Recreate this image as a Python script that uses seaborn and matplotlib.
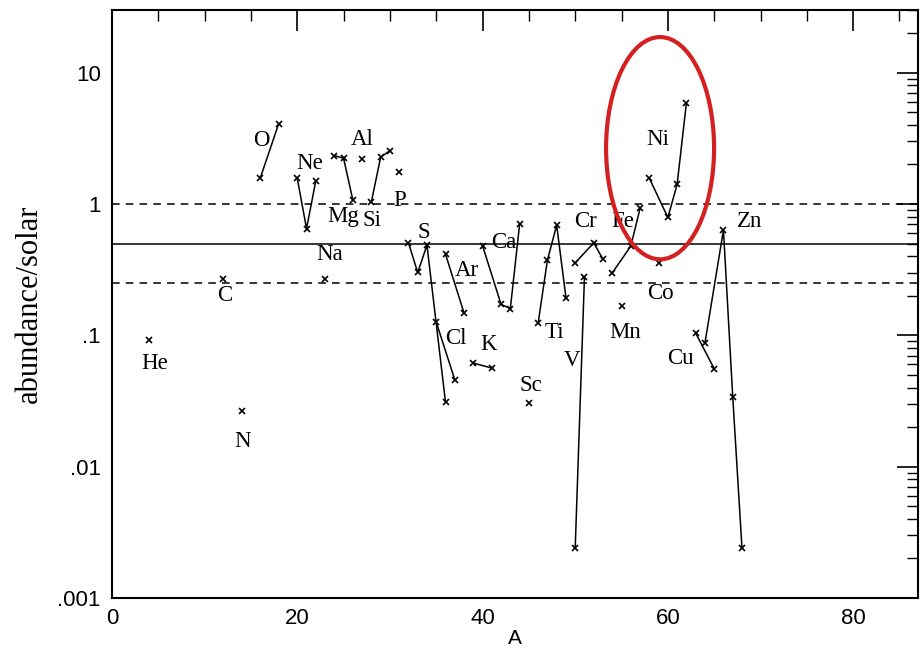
import matplotlib
matplotlib.use("Agg")
import matplotlib.pyplot as plt
import matplotlib.ticker as mticker
from matplotlib.patches import Ellipse
import numpy as np
import pandas as pd
import seaborn as sns

sns.set_theme(style="white")
plt.rcParams['font.family'] = ['Liberation Serif', 'DejaVu Serif']

# isotopes per element (mass number A) and abundance / solar
elements = ["He", "C", "N", "O", "Ne", "Na", "Mg", "Al", "Si", "P", "S", "Cl",
            "Ar", "K", "Ca", "Sc", "Ti", "V", "Cr", "Mn", "Fe", "Co", "Ni", "Cu", "Zn"]
masses = [[4], [12], [14], [16, 18], [20, 21, 22], [23], [24, 25, 26], [27],
          [28, 29, 30], [31], [32, 33, 34, 36], [35, 37], [36, 38], [39, 41],
          [40, 42, 43, 44], [45], [46, 47, 48, 49], [50, 51], [50, 52, 53], [55],
          [54, 56, 57], [59], [58, 60, 61, 62], [63, 65], [64, 66, 67, 68]]
abund = [[0.092], [0.27], [0.0267], [1.57, 4.1], [1.57, 0.65, 1.50], [0.27],
         [2.34, 2.23, 1.07], [2.2], [1.04, 2.27, 2.55], [1.76],
         [0.507, 0.301, 0.486, 0.031], [0.126, 0.046], [0.415, 0.148],
         [0.0615, 0.0563], [0.481, 0.172, 0.160, 0.703], [0.0306],
         [0.124, 0.374, 0.69, 0.194], [0.0024, 0.28], [0.356, 0.507, 0.378],
         [0.166], [0.299, 0.478, 0.927], [0.356], [1.57, 0.79, 1.41, 5.87],
         [0.104, 0.0557], [0.0873, 0.633, 0.0342, 0.0024]]

# label positions (A, abundance) for element names
label_x = [4.6, 12.2, 14.1, 16.1, 21.3, 23.5, 25.0, 27.0, 28.1, 31.1, 33.7, 37.1,
           38.3, 40.7, 42.3, 45.2, 47.8, 49.7, 51.1, 55.4, 55.1, 59.2, 58.9, 61.4, 68.8]
label_y = [0.061, 0.20, 0.0155, 3.03, 2.05, 0.416, 0.81, 3.08, 0.755, 1.07, 0.61, 0.095,
           0.31, 0.085, 0.51, 0.0415, 0.105, 0.0645, 0.73, 0.105, 0.73, 0.21, 3.08, 0.067, 0.73]

rows = []
for el, ms, vs in zip(elements, masses, abund):
    for m, v in zip(ms, vs):
        rows.append({"element": el, "A": m, "abundance": v})
df = pd.DataFrame(rows)

fig = plt.figure(figsize=(9.23, 6.5), dpi=100)
ax = fig.add_axes([0.1213, 0.08, 0.8733, 0.9046])

sns.lineplot(data=df, x="A", y="abundance", units="element", estimator=None,
             sort=False, color="black", marker="x", markersize=4.5,
             markeredgewidth=1.2, markeredgecolor="black", linewidth=1.1, ax=ax)

ax.axhline(1.0, color="black", lw=1.1, ls=(0, (5, 4)))
ax.axhline(0.5, color="black", lw=1.1)
ax.axhline(0.25, color="black", lw=1.1, ls=(0, (5, 4)))

for el, lx, ly in zip(elements, label_x, label_y):
    ax.text(lx, ly, el, ha="center", va="center", fontsize=16.5, color="black")

ax.set_yscale("log")
ax.set_xlim(0, 87)
ax.set_ylim(0.001, 30)
ax.xaxis.set_major_locator(mticker.MultipleLocator(20))
ax.xaxis.set_minor_locator(mticker.MultipleLocator(5))
ax.yaxis.set_major_locator(mticker.FixedLocator([0.001, 0.01, 0.1, 1, 10]))
ax.yaxis.set_major_formatter(mticker.FixedFormatter([".001", ".01", ".1", "1", "10"]))
ax.yaxis.set_minor_locator(mticker.LogLocator(base=10, subs=np.arange(2, 10)))
ax.yaxis.set_minor_formatter(mticker.NullFormatter())
ax.tick_params(which="both", direction="in", top=True, right=True, colors="black",
               labelsize=16)
ax.tick_params(which="major", length=15, width=1.2)
ax.tick_params(which="minor", length=8, width=1.0)
ax.tick_params(axis="y", which="major", pad=8)
ax.tick_params(axis="x", which="major", pad=7)
for lab in ax.get_xticklabels() + ax.get_yticklabels():
    lab.set_family(["Liberation Sans", "DejaVu Sans"])
for s in ax.spines.values():
    s.set_color("black")
    s.set_linewidth(1.5)

ax.set_xlabel("A", fontsize=15, color="black", labelpad=0,
              family=["Liberation Sans", "DejaVu Sans"])
ax.set_ylabel("abundance/solar", fontsize=22, color="black", labelpad=10)

ax.add_patch(Ellipse((0.680, 0.765), 0.134, 0.378, transform=ax.transAxes,
                     fill=False, edgecolor="#d42020", linewidth=3, zorder=5))

fig.savefig("out.png", dpi=100)
